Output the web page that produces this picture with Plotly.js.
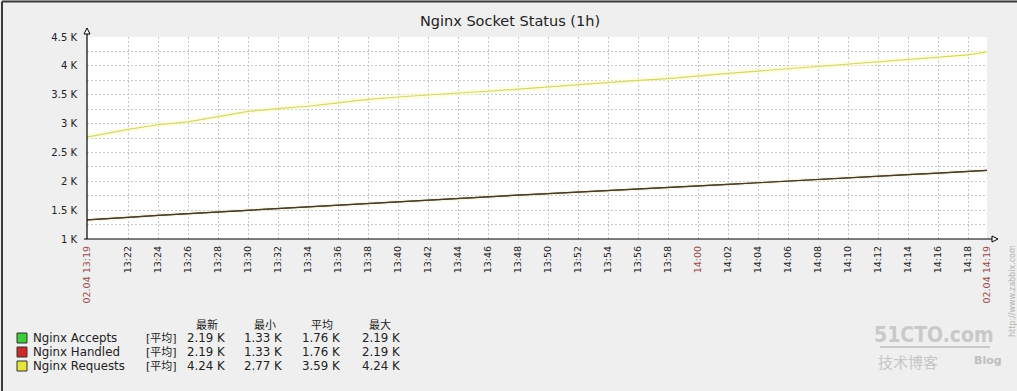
<!DOCTYPE html>
<html>
<head>
<meta charset="utf-8">
<script src="https://cdn.plot.ly/plotly-3.0.1.min.js"></script>
<style>
  html, body { margin: 0; padding: 0; background: #efefef; }
  #chart { width: 1017px; height: 391px; }
</style>
</head>
<body>
<div id="chart"></div>
<script>
// ---------------- data ----------------
const chartTitle = 'Nginx Socket Status (1h)';
const dayPrefix = '2014-02-04 ';
const sampleTimes = ['13:19:16','13:20','13:22','13:24','13:26','13:28','13:30','13:32','13:34','13:36','13:38','13:40','13:42','13:44','13:46','13:48','13:50','13:52','13:54','13:56','13:58','14:00','14:02','14:04','14:06','14:08','14:10','14:12','14:14','14:16','14:18','14:19:16'];
const acceptsValues  = [1330,1345,1375,1410,1440,1470,1500,1530,1560,1590,1620,1650,1680,1710,1735,1760,1785,1810,1835,1860,1885,1915,1945,1975,2005,2035,2060,2090,2115,2140,2170,2190];
const handledValues  = [1330,1345,1375,1410,1440,1470,1500,1530,1560,1590,1620,1650,1680,1710,1735,1760,1785,1810,1835,1860,1885,1915,1945,1975,2005,2035,2060,2090,2115,2140,2170,2190];
const requestsValues = [2770,2800,2900,2980,3030,3120,3210,3260,3300,3360,3420,3460,3500,3530,3560,3600,3630,3680,3710,3750,3780,3830,3870,3910,3950,3990,4020,4070,4100,4150,4190,4240];

const xRange = ['13:19:16','14:19:16'];
const xTickTimes  = ['13:19:16','13:22','13:24','13:26','13:28','13:30','13:32','13:34','13:36','13:38','13:40','13:42','13:44','13:46','13:48','13:50','13:52','13:54','13:56','13:58','14:00','14:02','14:04','14:06','14:08','14:10','14:12','14:14','14:16','14:18','14:19:16'];
const xTickLabels = ['02.04 13:19','13:22','13:24','13:26','13:28','13:30','13:32','13:34','13:36','13:38','13:40','13:42','13:44','13:46','13:48','13:50','13:52','13:54','13:56','13:58','14:00','14:02','14:04','14:06','14:08','14:10','14:12','14:14','14:16','14:18','02.04 14:19'];
const xMarkedLabels = ['02.04 13:19','14:00','02.04 14:19'];

const yRange = [1000, 4500];
const yTickVals = [1000,1500,2000,2500,3000,3500,4000,4500];
const yTickText = ['1 K','1.5 K','2 K','2.5 K','3 K','3.5 K','4 K','4.5 K'];
const yMinorStep = 250;

const seriesNames = ['Nginx Accepts','Nginx Handled','Nginx Requests'];
const seriesFunc = '[平均]';
const statHeaders = ['最新','最小','平均','最大'];
const acceptsStats  = ['2.19 K','1.33 K','1.76 K','2.19 K'];
const handledStats  = ['2.19 K','1.33 K','1.76 K','2.19 K'];
const requestsStats = ['4.24 K','2.77 K','3.59 K','4.24 K'];

// ---------------- styling / geometry ----------------
const W = 1017, H = 391;
const L = 87, R = 987, T = 37, B = 239;
const PW = R - L, PH = B - T;
const px = v => (v - L) / PW;
const py = v => (B - v) / PH;
const FONT = 'DejaVu Sans, Noto Sans CJK SC, sans-serif';
const swatchColors = ['#3ccc3c', '#cc2a2a', '#e4e43a'];
const lineColors = ['#3b4a2a', '#4a3a2c', '#d4d478'];
const markColor = '#9a4a4a';

const xs = sampleTimes.map(t => dayPrefix + t);

const traces = [
  { x: xs, y: requestsValues, type: 'scatter', mode: 'lines', hoverinfo: 'skip', showlegend: false,
    line: { color: 'rgba(252,252,190,0.45)', width: 6 } },
  { x: xs, y: acceptsValues, type: 'scatter', mode: 'lines', hoverinfo: 'skip', showlegend: false,
    line: { color: 'rgba(240,236,205,0.5)', width: 4 } },
  { x: xs, y: acceptsValues, name: seriesNames[0], type: 'scatter', mode: 'lines', showlegend: false,
    line: { color: lineColors[0], width: 1.2 } },
  { x: xs, y: handledValues, name: seriesNames[1], type: 'scatter', mode: 'lines', showlegend: false,
    line: { color: lineColors[1], width: 1.2 } },
  { x: xs, y: requestsValues, name: seriesNames[2], type: 'scatter', mode: 'lines', showlegend: false,
    line: { color: lineColors[2], width: 1.2 } }
];

const gridColor = '#c6c6c6';
const layout = {
  width: W, height: H,
  margin: { l: L, r: W - R, t: T, b: H - B, pad: 0 },
  paper_bgcolor: '#efefef',
  plot_bgcolor: '#ffffff',
  font: { family: FONT, color: '#222' },
  showlegend: false,
  title: { text: chartTitle, font: { family: FONT, size: 14.5, color: '#222' },
           xref: 'container', yref: 'container', x: 510 / W, y: 1 - 21 / H,
           xanchor: 'center', yanchor: 'middle' },
  xaxis: {
    type: 'date',
    range: xRange.map(t => dayPrefix + t),
    tickmode: 'array',
    tickvals: xTickTimes.map(t => dayPrefix + t),
    ticktext: xTickLabels.map(s => xMarkedLabels.includes(s)
      ? '<span style="color:' + markColor + '">' + s + '</span>' : s),
    tickangle: -90,
    tickfont: { family: FONT, size: 9.5, color: '#222' },
    ticks: '', ticklabelstandoff: 4,
    showgrid: true, gridcolor: gridColor, griddash: '2px,2px', gridwidth: 1,
    showline: false, zeroline: false, fixedrange: true
  },
  yaxis: {
    range: yRange,
    tickmode: 'array',
    tickvals: yTickVals,
    ticktext: yTickText,
    tickfont: { family: FONT, size: 10, color: '#222' },
    ticks: '', ticklabelstandoff: 9,
    showgrid: true, gridcolor: gridColor, griddash: '2px,2px', gridwidth: 1,
    minor: { dtick: yMinorStep, tick0: yRange[0], showgrid: true, gridcolor: gridColor, griddash: '2px,2px', gridwidth: 1, ticks: '' },
    showline: false, zeroline: false, fixedrange: true
  },
  shapes: [],
  annotations: []
};

// axes with arrows
layout.shapes.push(
  { type: 'line', xref: 'paper', yref: 'paper', x0: 0, y0: py(B), x1: 0, y1: py(33), line: { color: '#000', width: 1.2 } },
  { type: 'line', xref: 'paper', yref: 'paper', x0: px(L), y0: 0, x1: px(993), y1: 0, line: { color: '#000', width: 1.2 } },
  { type: 'line', xref: 'paper', yref: 'paper', x0: px(L - 3), y0: 0, x1: px(L), y1: 0, line: { color: '#000', width: 1 } },
  { type: 'path', xref: 'paper', yref: 'paper',
    path: 'M ' + px(87) + ' ' + py(28) + ' L ' + px(84) + ' ' + py(34) + ' L ' + px(90) + ' ' + py(34) + ' Z',
    fillcolor: '#ffffff', line: { color: '#000', width: 1 } },
  { type: 'path', xref: 'paper', yref: 'paper',
    path: 'M ' + px(998) + ' ' + py(239) + ' L ' + px(992) + ' ' + py(236) + ' L ' + px(992) + ' ' + py(242) + ' Z',
    fillcolor: '#ffffff', line: { color: '#000', width: 1 } }
);

// outer frame
layout.shapes.push(
  { type: 'line', xref: 'paper', yref: 'paper', x0: px(2), y0: py(1.5), x1: px(1020), y1: py(1.5), line: { color: '#3a3a3a', width: 2 } },
  { type: 'line', xref: 'paper', yref: 'paper', x0: px(2), y0: py(1.5), x1: px(2), y1: py(395), line: { color: '#3a3a3a', width: 2 } }
);

// custom legend
const rowsY = [338, 352, 366];
const statCols = [227, 284, 342, 402];
const headerCols = [207, 265, 322, 380];
const allStats = [acceptsStats, handledStats, requestsStats];
const LF = { family: FONT, size: 11.8, color: '#222' };
headerCols.forEach((cx, i) => layout.annotations.push({
  xref: 'paper', yref: 'paper', x: px(cx), y: py(325), text: statHeaders[i], showarrow: false,
  xanchor: 'center', yanchor: 'middle', font: { family: FONT, size: 11, color: '#222' } }));
seriesNames.forEach((name, r) => {
  const yc = rowsY[r];
  layout.shapes.push({ type: 'rect', xref: 'paper', yref: 'paper',
    x0: px(17), x1: px(27), y0: py(yc + 5), y1: py(yc - 5),
    fillcolor: swatchColors[r], line: { color: '#333', width: 1 } });
  layout.annotations.push({ xref: 'paper', yref: 'paper', x: px(31), y: py(yc), text: name,
    showarrow: false, xanchor: 'left', yanchor: 'middle', font: LF });
  layout.annotations.push({ xref: 'paper', yref: 'paper', x: px(144), y: py(yc), text: seriesFunc,
    showarrow: false, xanchor: 'left', yanchor: 'middle', font: { family: FONT, size: 11, color: '#222' } });
  allStats[r].forEach((v, c) => layout.annotations.push({ xref: 'paper', yref: 'paper',
    x: px(statCols[c]), y: py(yc), text: v, showarrow: false, xanchor: 'right', yanchor: 'middle', font: LF }));
});

// watermarks
layout.annotations.push(
  { xref: 'paper', yref: 'paper', x: px(1012), y: py(291), text: 'http://www.zabbix.com', textangle: -90,
    showarrow: false, xanchor: 'center', yanchor: 'middle', font: { family: FONT, size: 8, color: '#b4b4b4' } },
  { xref: 'paper', yref: 'paper', x: px(934), y: py(335), text: '<b>51CTO.com</b>',
    showarrow: false, xanchor: 'center', yanchor: 'middle', font: { family: 'DejaVu Sans Condensed, DejaVu Sans', size: 21, color: '#c9c9c9' } },
  { xref: 'paper', yref: 'paper', x: px(908), y: py(361), text: '技术博客',
    showarrow: false, xanchor: 'center', yanchor: 'middle', font: { family: 'Noto Sans CJK SC', size: 15, color: '#c6c6c6' } },
  { xref: 'paper', yref: 'paper', x: px(988), y: py(360), text: '<b>Blog</b>',
    showarrow: false, xanchor: 'center', yanchor: 'middle', font: { family: FONT, size: 11, color: '#bebebe' } }
);
layout.shapes.push({ type: 'line', xref: 'paper', yref: 'paper', x0: px(880), y0: py(347), x1: px(990), y1: py(347),
  line: { color: '#c8c8c8', width: 2 } });

Plotly.newPlot('chart', traces, layout, { displayModeBar: false, staticPlot: true });
</script>
</body>
</html>
